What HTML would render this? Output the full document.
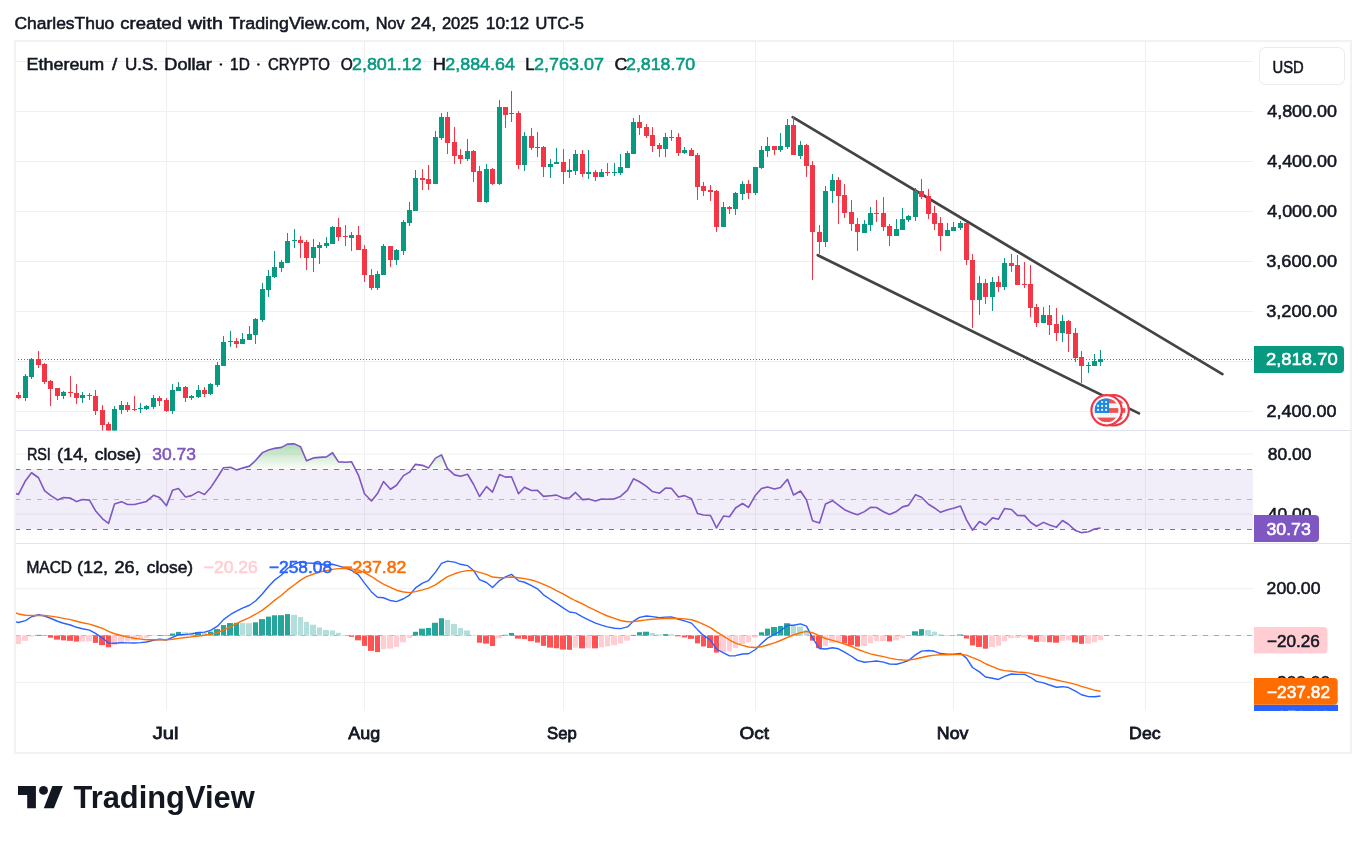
<!DOCTYPE html>
<html><head><meta charset="utf-8"><title>ETH/USD TradingView</title>
<style>html,body{margin:0;padding:0;background:#fff;}body{width:1367px;height:843px;overflow:hidden;position:relative;font-family:"Liberation Sans", sans-serif;}</style>
</head><body>
<svg width="1367" height="843" viewBox="0 0 1367 843" style="position:absolute;left:0;top:0;will-change:transform">
<defs>
<clipPath id="cm"><rect x="16" y="42" width="1237" height="388.5"/></clipPath>
<clipPath id="cr"><rect x="16" y="431" width="1237" height="112"/></clipPath>
<clipPath id="cd"><rect x="16" y="544" width="1237" height="166.5"/></clipPath>
<clipPath id="cax"><rect x="1253" y="544" width="98" height="167"/></clipPath>
<linearGradient id="gob" x1="0" y1="0" x2="0" y2="1"><stop offset="0" stop-color="#4caf50" stop-opacity="0.45"/><stop offset="1" stop-color="#4caf50" stop-opacity="0.02"/></linearGradient>
</defs>
<rect x="0" y="0" width="1367" height="843" fill="#ffffff"/>
<rect x="15" y="41" width="1336" height="712" fill="none" stroke="#f2f2f2" stroke-width="2"/>
<rect x="16" y="61.00" width="1237" height="1" fill="#f0f0f0"/>
<rect x="16" y="111.00" width="1237" height="1" fill="#f0f0f0"/>
<rect x="16" y="161.00" width="1237" height="1" fill="#f0f0f0"/>
<rect x="16" y="211.00" width="1237" height="1" fill="#f0f0f0"/>
<rect x="16" y="261.00" width="1237" height="1" fill="#f0f0f0"/>
<rect x="16" y="311.00" width="1237" height="1" fill="#f0f0f0"/>
<rect x="16" y="361.00" width="1237" height="1" fill="#f0f0f0"/>
<rect x="16" y="411.00" width="1237" height="1" fill="#f0f0f0"/>
<rect x="16" y="453.55" width="1237" height="1" fill="#f0f0f0"/>
<rect x="16" y="513.75" width="1237" height="1" fill="#f0f0f0"/>
<rect x="16" y="588.16" width="1237" height="1" fill="#f0f0f0"/>
<rect x="16" y="681.84" width="1237" height="1" fill="#f0f0f0"/>
<rect x="166" y="42" width="1" height="668.5" fill="#f0f0f0"/>
<rect x="364" y="42" width="1" height="668.5" fill="#f0f0f0"/>
<rect x="563" y="42" width="1" height="668.5" fill="#f0f0f0"/>
<rect x="755" y="42" width="1" height="668.5" fill="#f0f0f0"/>
<rect x="953" y="42" width="1" height="668.5" fill="#f0f0f0"/>
<rect x="1145" y="42" width="1" height="668.5" fill="#f0f0f0"/>
<rect x="16" y="430" width="1335" height="1" fill="#e0e3eb"/>
<rect x="16" y="543" width="1335" height="1" fill="#e0e3eb"/>
<g clip-path="url(#cm)">
<line x1="16" y1="359.5" x2="1253" y2="359.5" stroke="#089981" stroke-width="1" stroke-dasharray="1 2" stroke-dashoffset="1"/>
<line x1="792.7" y1="117.1" x2="1222.4" y2="374.1" stroke="#444444" stroke-width="2.7" stroke-linecap="round"/>
<line x1="817.8" y1="255.2" x2="1139" y2="413.4" stroke="#444444" stroke-width="2.7" stroke-linecap="round"/>
<rect x="18" y="392" width="1" height="7" fill="#f23645"/>
<rect x="16" y="395" width="5" height="3" fill="#f23645"/>
<rect x="25" y="374" width="1" height="27" fill="#089981"/>
<rect x="23" y="376" width="5" height="22" fill="#089981"/>
<rect x="31" y="358" width="1" height="21" fill="#089981"/>
<rect x="29" y="359" width="5" height="18" fill="#089981"/>
<rect x="38" y="351" width="1" height="17" fill="#f23645"/>
<rect x="36" y="359" width="5" height="6" fill="#f23645"/>
<rect x="44" y="363" width="1" height="21" fill="#f23645"/>
<rect x="42" y="364" width="5" height="18" fill="#f23645"/>
<rect x="50" y="380" width="1" height="26" fill="#f23645"/>
<rect x="48" y="381" width="5" height="8" fill="#f23645"/>
<rect x="57" y="388" width="1" height="12" fill="#f23645"/>
<rect x="55" y="388" width="5" height="8" fill="#f23645"/>
<rect x="63" y="391" width="1" height="8" fill="#089981"/>
<rect x="61" y="392" width="5" height="4" fill="#089981"/>
<rect x="70" y="376" width="1" height="21" fill="#f23645"/>
<rect x="68" y="392" width="5" height="1" fill="#f23645"/>
<rect x="76" y="384" width="1" height="20" fill="#f23645"/>
<rect x="74" y="393" width="5" height="5" fill="#f23645"/>
<rect x="82" y="392" width="1" height="11" fill="#089981"/>
<rect x="80" y="395" width="5" height="3" fill="#089981"/>
<rect x="89" y="393" width="1" height="7" fill="#f23645"/>
<rect x="87" y="395" width="5" height="1" fill="#f23645"/>
<rect x="95" y="390" width="1" height="25" fill="#f23645"/>
<rect x="93" y="396" width="5" height="15" fill="#f23645"/>
<rect x="102" y="405" width="1" height="35" fill="#f23645"/>
<rect x="100" y="410" width="5" height="15" fill="#f23645"/>
<rect x="108" y="422" width="1" height="26" fill="#f23645"/>
<rect x="106" y="424" width="5" height="10" fill="#f23645"/>
<rect x="114" y="406" width="1" height="31" fill="#089981"/>
<rect x="112" y="409" width="5" height="25" fill="#089981"/>
<rect x="121" y="401" width="1" height="13" fill="#089981"/>
<rect x="119" y="405" width="5" height="5" fill="#089981"/>
<rect x="127" y="402" width="1" height="10" fill="#f23645"/>
<rect x="125" y="405" width="5" height="5" fill="#f23645"/>
<rect x="134" y="396" width="1" height="15" fill="#f23645"/>
<rect x="132" y="409" width="5" height="1" fill="#f23645"/>
<rect x="140" y="403" width="1" height="10" fill="#089981"/>
<rect x="138" y="408" width="5" height="1" fill="#089981"/>
<rect x="146" y="405" width="1" height="5" fill="#089981"/>
<rect x="144" y="406" width="5" height="3" fill="#089981"/>
<rect x="153" y="395" width="1" height="14" fill="#089981"/>
<rect x="151" y="398" width="5" height="9" fill="#089981"/>
<rect x="159" y="396" width="1" height="10" fill="#f23645"/>
<rect x="157" y="398" width="5" height="3" fill="#f23645"/>
<rect x="166" y="398" width="1" height="14" fill="#f23645"/>
<rect x="164" y="400" width="5" height="11" fill="#f23645"/>
<rect x="172" y="384" width="1" height="30" fill="#089981"/>
<rect x="170" y="390" width="5" height="21" fill="#089981"/>
<rect x="178" y="382" width="1" height="9" fill="#089981"/>
<rect x="176" y="387" width="5" height="4" fill="#089981"/>
<rect x="185" y="386" width="1" height="16" fill="#f23645"/>
<rect x="183" y="387" width="5" height="11" fill="#f23645"/>
<rect x="191" y="395" width="1" height="5" fill="#089981"/>
<rect x="189" y="396" width="5" height="2" fill="#089981"/>
<rect x="198" y="385" width="1" height="13" fill="#089981"/>
<rect x="196" y="390" width="5" height="7" fill="#089981"/>
<rect x="204" y="387" width="1" height="10" fill="#f23645"/>
<rect x="202" y="390" width="5" height="4" fill="#f23645"/>
<rect x="210" y="383" width="1" height="12" fill="#089981"/>
<rect x="208" y="384" width="5" height="10" fill="#089981"/>
<rect x="217" y="362" width="1" height="25" fill="#089981"/>
<rect x="215" y="365" width="5" height="20" fill="#089981"/>
<rect x="223" y="336" width="1" height="30" fill="#089981"/>
<rect x="221" y="342" width="5" height="24" fill="#089981"/>
<rect x="230" y="331" width="1" height="16" fill="#089981"/>
<rect x="228" y="341" width="5" height="1" fill="#089981"/>
<rect x="236" y="338" width="1" height="10" fill="#f23645"/>
<rect x="234" y="341" width="5" height="3" fill="#f23645"/>
<rect x="242" y="333" width="1" height="11" fill="#089981"/>
<rect x="240" y="339" width="5" height="5" fill="#089981"/>
<rect x="249" y="326" width="1" height="14" fill="#089981"/>
<rect x="247" y="334" width="5" height="6" fill="#089981"/>
<rect x="255" y="318" width="1" height="26" fill="#089981"/>
<rect x="253" y="319" width="5" height="16" fill="#089981"/>
<rect x="262" y="283" width="1" height="39" fill="#089981"/>
<rect x="260" y="289" width="5" height="31" fill="#089981"/>
<rect x="268" y="270" width="1" height="27" fill="#089981"/>
<rect x="266" y="276" width="5" height="14" fill="#089981"/>
<rect x="274" y="251" width="1" height="27" fill="#089981"/>
<rect x="272" y="267" width="5" height="10" fill="#089981"/>
<rect x="281" y="260" width="1" height="12" fill="#089981"/>
<rect x="279" y="262" width="5" height="6" fill="#089981"/>
<rect x="287" y="233" width="1" height="30" fill="#089981"/>
<rect x="285" y="241" width="5" height="22" fill="#089981"/>
<rect x="294" y="229" width="1" height="19" fill="#089981"/>
<rect x="292" y="240" width="5" height="1" fill="#089981"/>
<rect x="300" y="236" width="1" height="22" fill="#f23645"/>
<rect x="298" y="240" width="5" height="3" fill="#f23645"/>
<rect x="306" y="240" width="1" height="30" fill="#f23645"/>
<rect x="304" y="242" width="5" height="16" fill="#f23645"/>
<rect x="313" y="239" width="1" height="33" fill="#089981"/>
<rect x="311" y="247" width="5" height="11" fill="#089981"/>
<rect x="319" y="242" width="1" height="22" fill="#089981"/>
<rect x="317" y="245" width="5" height="3" fill="#089981"/>
<rect x="326" y="237" width="1" height="11" fill="#089981"/>
<rect x="324" y="243" width="5" height="3" fill="#089981"/>
<rect x="332" y="226" width="1" height="18" fill="#089981"/>
<rect x="330" y="227" width="5" height="17" fill="#089981"/>
<rect x="338" y="218" width="1" height="23" fill="#f23645"/>
<rect x="336" y="227" width="5" height="10" fill="#f23645"/>
<rect x="345" y="225" width="1" height="21" fill="#f23645"/>
<rect x="343" y="236" width="5" height="1" fill="#f23645"/>
<rect x="351" y="232" width="1" height="19" fill="#089981"/>
<rect x="349" y="235" width="5" height="3" fill="#089981"/>
<rect x="358" y="226" width="1" height="24" fill="#f23645"/>
<rect x="356" y="235" width="5" height="15" fill="#f23645"/>
<rect x="364" y="245" width="1" height="37" fill="#f23645"/>
<rect x="362" y="249" width="5" height="26" fill="#f23645"/>
<rect x="371" y="269" width="1" height="21" fill="#f23645"/>
<rect x="369" y="275" width="5" height="13" fill="#f23645"/>
<rect x="377" y="271" width="1" height="19" fill="#089981"/>
<rect x="375" y="274" width="5" height="14" fill="#089981"/>
<rect x="383" y="244" width="1" height="31" fill="#089981"/>
<rect x="381" y="246" width="5" height="29" fill="#089981"/>
<rect x="390" y="246" width="1" height="21" fill="#f23645"/>
<rect x="388" y="246" width="5" height="14" fill="#f23645"/>
<rect x="396" y="249" width="1" height="16" fill="#089981"/>
<rect x="394" y="250" width="5" height="10" fill="#089981"/>
<rect x="403" y="220" width="1" height="35" fill="#089981"/>
<rect x="401" y="222" width="5" height="29" fill="#089981"/>
<rect x="409" y="202" width="1" height="24" fill="#089981"/>
<rect x="407" y="210" width="5" height="13" fill="#089981"/>
<rect x="415" y="170" width="1" height="41" fill="#089981"/>
<rect x="413" y="178" width="5" height="33" fill="#089981"/>
<rect x="422" y="169" width="1" height="21" fill="#f23645"/>
<rect x="420" y="178" width="5" height="2" fill="#f23645"/>
<rect x="428" y="165" width="1" height="25" fill="#f23645"/>
<rect x="426" y="179" width="5" height="5" fill="#f23645"/>
<rect x="435" y="131" width="1" height="53" fill="#089981"/>
<rect x="433" y="137" width="5" height="47" fill="#089981"/>
<rect x="441" y="113" width="1" height="27" fill="#089981"/>
<rect x="439" y="117" width="5" height="21" fill="#089981"/>
<rect x="447" y="112" width="1" height="42" fill="#f23645"/>
<rect x="445" y="117" width="5" height="26" fill="#f23645"/>
<rect x="454" y="127" width="1" height="37" fill="#f23645"/>
<rect x="452" y="142" width="5" height="14" fill="#f23645"/>
<rect x="460" y="149" width="1" height="15" fill="#f23645"/>
<rect x="458" y="155" width="5" height="4" fill="#f23645"/>
<rect x="467" y="139" width="1" height="22" fill="#089981"/>
<rect x="465" y="151" width="5" height="8" fill="#089981"/>
<rect x="473" y="150" width="1" height="32" fill="#f23645"/>
<rect x="471" y="151" width="5" height="21" fill="#f23645"/>
<rect x="479" y="166" width="1" height="36" fill="#f23645"/>
<rect x="477" y="171" width="5" height="31" fill="#f23645"/>
<rect x="486" y="164" width="1" height="39" fill="#089981"/>
<rect x="484" y="169" width="5" height="33" fill="#089981"/>
<rect x="492" y="168" width="1" height="17" fill="#f23645"/>
<rect x="490" y="169" width="5" height="15" fill="#f23645"/>
<rect x="499" y="100" width="1" height="85" fill="#089981"/>
<rect x="497" y="107" width="5" height="77" fill="#089981"/>
<rect x="505" y="107" width="1" height="21" fill="#f23645"/>
<rect x="503" y="107" width="5" height="8" fill="#f23645"/>
<rect x="511" y="91" width="1" height="31" fill="#089981"/>
<rect x="509" y="113" width="5" height="1" fill="#089981"/>
<rect x="518" y="111" width="1" height="58" fill="#f23645"/>
<rect x="516" y="113" width="5" height="52" fill="#f23645"/>
<rect x="524" y="132" width="1" height="39" fill="#089981"/>
<rect x="522" y="136" width="5" height="29" fill="#089981"/>
<rect x="531" y="128" width="1" height="22" fill="#f23645"/>
<rect x="529" y="136" width="5" height="12" fill="#f23645"/>
<rect x="537" y="132" width="1" height="25" fill="#089981"/>
<rect x="535" y="147" width="5" height="1" fill="#089981"/>
<rect x="543" y="146" width="1" height="31" fill="#f23645"/>
<rect x="541" y="147" width="5" height="20" fill="#f23645"/>
<rect x="550" y="159" width="1" height="19" fill="#089981"/>
<rect x="548" y="164" width="5" height="3" fill="#089981"/>
<rect x="556" y="148" width="1" height="16" fill="#089981"/>
<rect x="554" y="162" width="5" height="2" fill="#089981"/>
<rect x="563" y="149" width="1" height="35" fill="#f23645"/>
<rect x="561" y="162" width="5" height="10" fill="#f23645"/>
<rect x="569" y="159" width="1" height="19" fill="#089981"/>
<rect x="567" y="170" width="5" height="2" fill="#089981"/>
<rect x="575" y="150" width="1" height="25" fill="#089981"/>
<rect x="573" y="154" width="5" height="17" fill="#089981"/>
<rect x="582" y="150" width="1" height="27" fill="#f23645"/>
<rect x="580" y="154" width="5" height="20" fill="#f23645"/>
<rect x="588" y="150" width="1" height="29" fill="#089981"/>
<rect x="586" y="172" width="5" height="2" fill="#089981"/>
<rect x="595" y="170" width="1" height="11" fill="#f23645"/>
<rect x="593" y="172" width="5" height="5" fill="#f23645"/>
<rect x="601" y="169" width="1" height="8" fill="#089981"/>
<rect x="599" y="172" width="5" height="5" fill="#089981"/>
<rect x="607" y="163" width="1" height="13" fill="#f23645"/>
<rect x="605" y="172" width="5" height="1" fill="#f23645"/>
<rect x="614" y="163" width="1" height="13" fill="#089981"/>
<rect x="612" y="172" width="5" height="1" fill="#089981"/>
<rect x="620" y="154" width="1" height="21" fill="#089981"/>
<rect x="618" y="167" width="5" height="6" fill="#089981"/>
<rect x="627" y="151" width="1" height="17" fill="#089981"/>
<rect x="625" y="153" width="5" height="15" fill="#089981"/>
<rect x="633" y="118" width="1" height="36" fill="#089981"/>
<rect x="631" y="122" width="5" height="32" fill="#089981"/>
<rect x="639" y="115" width="1" height="20" fill="#f23645"/>
<rect x="637" y="122" width="5" height="6" fill="#f23645"/>
<rect x="646" y="124" width="1" height="14" fill="#f23645"/>
<rect x="644" y="127" width="5" height="9" fill="#f23645"/>
<rect x="652" y="127" width="1" height="25" fill="#f23645"/>
<rect x="650" y="135" width="5" height="11" fill="#f23645"/>
<rect x="659" y="143" width="1" height="14" fill="#f23645"/>
<rect x="657" y="145" width="5" height="4" fill="#f23645"/>
<rect x="665" y="133" width="1" height="24" fill="#089981"/>
<rect x="663" y="137" width="5" height="12" fill="#089981"/>
<rect x="671" y="130" width="1" height="11" fill="#f23645"/>
<rect x="669" y="137" width="5" height="1" fill="#f23645"/>
<rect x="678" y="133" width="1" height="23" fill="#f23645"/>
<rect x="676" y="137" width="5" height="16" fill="#f23645"/>
<rect x="684" y="147" width="1" height="7" fill="#089981"/>
<rect x="682" y="150" width="5" height="3" fill="#089981"/>
<rect x="691" y="148" width="1" height="8" fill="#f23645"/>
<rect x="689" y="150" width="5" height="6" fill="#f23645"/>
<rect x="697" y="153" width="1" height="47" fill="#f23645"/>
<rect x="695" y="155" width="5" height="32" fill="#f23645"/>
<rect x="703" y="182" width="1" height="14" fill="#f23645"/>
<rect x="701" y="186" width="5" height="5" fill="#f23645"/>
<rect x="710" y="185" width="1" height="16" fill="#f23645"/>
<rect x="708" y="190" width="5" height="2" fill="#f23645"/>
<rect x="716" y="190" width="1" height="42" fill="#f23645"/>
<rect x="714" y="191" width="5" height="36" fill="#f23645"/>
<rect x="723" y="202" width="1" height="25" fill="#089981"/>
<rect x="721" y="207" width="5" height="20" fill="#089981"/>
<rect x="729" y="206" width="1" height="8" fill="#f23645"/>
<rect x="727" y="207" width="5" height="2" fill="#f23645"/>
<rect x="735" y="192" width="1" height="23" fill="#089981"/>
<rect x="733" y="193" width="5" height="16" fill="#089981"/>
<rect x="742" y="181" width="1" height="19" fill="#089981"/>
<rect x="740" y="184" width="5" height="10" fill="#089981"/>
<rect x="748" y="180" width="1" height="19" fill="#f23645"/>
<rect x="746" y="184" width="5" height="9" fill="#f23645"/>
<rect x="755" y="167" width="1" height="28" fill="#089981"/>
<rect x="753" y="167" width="5" height="26" fill="#089981"/>
<rect x="761" y="146" width="1" height="23" fill="#089981"/>
<rect x="759" y="150" width="5" height="18" fill="#089981"/>
<rect x="767" y="137" width="1" height="20" fill="#089981"/>
<rect x="765" y="146" width="5" height="5" fill="#089981"/>
<rect x="774" y="146" width="1" height="9" fill="#f23645"/>
<rect x="772" y="146" width="5" height="4" fill="#f23645"/>
<rect x="780" y="133" width="1" height="19" fill="#089981"/>
<rect x="778" y="146" width="5" height="4" fill="#089981"/>
<rect x="787" y="119" width="1" height="30" fill="#089981"/>
<rect x="785" y="125" width="5" height="22" fill="#089981"/>
<rect x="793" y="116" width="1" height="39" fill="#f23645"/>
<rect x="791" y="125" width="5" height="30" fill="#f23645"/>
<rect x="800" y="141" width="1" height="18" fill="#089981"/>
<rect x="798" y="145" width="5" height="11" fill="#089981"/>
<rect x="806" y="144" width="1" height="33" fill="#f23645"/>
<rect x="804" y="145" width="5" height="21" fill="#f23645"/>
<rect x="812" y="161" width="1" height="119" fill="#f23645"/>
<rect x="810" y="165" width="5" height="67" fill="#f23645"/>
<rect x="819" y="225" width="1" height="29" fill="#f23645"/>
<rect x="817" y="232" width="5" height="10" fill="#f23645"/>
<rect x="825" y="186" width="1" height="61" fill="#089981"/>
<rect x="823" y="191" width="5" height="51" fill="#089981"/>
<rect x="832" y="174" width="1" height="29" fill="#089981"/>
<rect x="830" y="180" width="5" height="11" fill="#089981"/>
<rect x="838" y="177" width="1" height="47" fill="#f23645"/>
<rect x="836" y="180" width="5" height="16" fill="#f23645"/>
<rect x="844" y="184" width="1" height="34" fill="#f23645"/>
<rect x="842" y="195" width="5" height="18" fill="#f23645"/>
<rect x="851" y="200" width="1" height="31" fill="#f23645"/>
<rect x="849" y="212" width="5" height="12" fill="#f23645"/>
<rect x="857" y="218" width="1" height="33" fill="#f23645"/>
<rect x="855" y="224" width="5" height="8" fill="#f23645"/>
<rect x="864" y="220" width="1" height="13" fill="#089981"/>
<rect x="862" y="224" width="5" height="9" fill="#089981"/>
<rect x="870" y="207" width="1" height="24" fill="#089981"/>
<rect x="868" y="213" width="5" height="12" fill="#089981"/>
<rect x="876" y="200" width="1" height="22" fill="#f23645"/>
<rect x="874" y="213" width="5" height="1" fill="#f23645"/>
<rect x="883" y="197" width="1" height="34" fill="#f23645"/>
<rect x="881" y="213" width="5" height="14" fill="#f23645"/>
<rect x="889" y="224" width="1" height="22" fill="#f23645"/>
<rect x="887" y="226" width="5" height="10" fill="#f23645"/>
<rect x="896" y="219" width="1" height="17" fill="#089981"/>
<rect x="894" y="229" width="5" height="7" fill="#089981"/>
<rect x="902" y="208" width="1" height="22" fill="#089981"/>
<rect x="900" y="219" width="5" height="11" fill="#089981"/>
<rect x="908" y="215" width="1" height="7" fill="#089981"/>
<rect x="906" y="216" width="5" height="4" fill="#089981"/>
<rect x="915" y="188" width="1" height="33" fill="#089981"/>
<rect x="913" y="191" width="5" height="26" fill="#089981"/>
<rect x="921" y="179" width="1" height="20" fill="#f23645"/>
<rect x="919" y="191" width="5" height="6" fill="#f23645"/>
<rect x="928" y="189" width="1" height="30" fill="#f23645"/>
<rect x="926" y="196" width="5" height="18" fill="#f23645"/>
<rect x="934" y="206" width="1" height="24" fill="#f23645"/>
<rect x="932" y="213" width="5" height="11" fill="#f23645"/>
<rect x="940" y="217" width="1" height="34" fill="#f23645"/>
<rect x="938" y="223" width="5" height="13" fill="#f23645"/>
<rect x="947" y="223" width="1" height="13" fill="#089981"/>
<rect x="945" y="230" width="5" height="6" fill="#089981"/>
<rect x="953" y="222" width="1" height="9" fill="#089981"/>
<rect x="951" y="227" width="5" height="4" fill="#089981"/>
<rect x="960" y="221" width="1" height="9" fill="#089981"/>
<rect x="958" y="223" width="5" height="5" fill="#089981"/>
<rect x="966" y="223" width="1" height="42" fill="#f23645"/>
<rect x="964" y="223" width="5" height="37" fill="#f23645"/>
<rect x="972" y="254" width="1" height="74" fill="#f23645"/>
<rect x="970" y="260" width="5" height="40" fill="#f23645"/>
<rect x="979" y="276" width="1" height="39" fill="#089981"/>
<rect x="977" y="283" width="5" height="17" fill="#089981"/>
<rect x="985" y="279" width="1" height="25" fill="#f23645"/>
<rect x="983" y="283" width="5" height="14" fill="#f23645"/>
<rect x="992" y="277" width="1" height="34" fill="#089981"/>
<rect x="990" y="282" width="5" height="15" fill="#089981"/>
<rect x="998" y="276" width="1" height="16" fill="#f23645"/>
<rect x="996" y="282" width="5" height="5" fill="#f23645"/>
<rect x="1004" y="258" width="1" height="32" fill="#089981"/>
<rect x="1002" y="263" width="5" height="24" fill="#089981"/>
<rect x="1011" y="254" width="1" height="18" fill="#f23645"/>
<rect x="1009" y="263" width="5" height="3" fill="#f23645"/>
<rect x="1017" y="255" width="1" height="30" fill="#f23645"/>
<rect x="1015" y="265" width="5" height="20" fill="#f23645"/>
<rect x="1024" y="262" width="1" height="26" fill="#f23645"/>
<rect x="1022" y="284" width="5" height="1" fill="#f23645"/>
<rect x="1030" y="265" width="1" height="52" fill="#f23645"/>
<rect x="1028" y="284" width="5" height="24" fill="#f23645"/>
<rect x="1036" y="304" width="1" height="23" fill="#f23645"/>
<rect x="1034" y="307" width="5" height="16" fill="#f23645"/>
<rect x="1043" y="307" width="1" height="16" fill="#089981"/>
<rect x="1041" y="315" width="5" height="8" fill="#089981"/>
<rect x="1049" y="305" width="1" height="30" fill="#f23645"/>
<rect x="1047" y="315" width="5" height="10" fill="#f23645"/>
<rect x="1056" y="308" width="1" height="33" fill="#f23645"/>
<rect x="1054" y="324" width="5" height="9" fill="#f23645"/>
<rect x="1062" y="315" width="1" height="27" fill="#089981"/>
<rect x="1060" y="321" width="5" height="12" fill="#089981"/>
<rect x="1068" y="320" width="1" height="32" fill="#f23645"/>
<rect x="1066" y="321" width="5" height="13" fill="#f23645"/>
<rect x="1075" y="328" width="1" height="34" fill="#f23645"/>
<rect x="1073" y="333" width="5" height="25" fill="#f23645"/>
<rect x="1081" y="351" width="1" height="32" fill="#f23645"/>
<rect x="1079" y="357" width="5" height="9" fill="#f23645"/>
<rect x="1088" y="362" width="1" height="11" fill="#089981"/>
<rect x="1086" y="365" width="5" height="1" fill="#089981"/>
<rect x="1094" y="354" width="1" height="12" fill="#089981"/>
<rect x="1092" y="361" width="5" height="5" fill="#089981"/>
<rect x="1100" y="350" width="1" height="16" fill="#089981"/>
<rect x="1098" y="359" width="5" height="3" fill="#089981"/>
<circle cx="1113.6" cy="410.3" r="15.2" fill="#ffffff" stroke="#f23645" stroke-width="2.2"/>
<clipPath id="fc2"><circle cx="1113.6" cy="410.3" r="12"/></clipPath>
<g clip-path="url(#fc2)">
<rect x="1101.6" y="398.3" width="24" height="24" fill="#f5f6f8"/>
<rect x="1101.6" y="398.60" width="24" height="4.75" fill="#ef5350"/>
<rect x="1101.6" y="408.10" width="24" height="4.75" fill="#ef5350"/>
<rect x="1101.6" y="417.60" width="24" height="4.75" fill="#ef5350"/>
<rect x="1101.6" y="398.3" width="14.4" height="14.7" fill="#1e88e5"/>
<circle cx="1109.10" cy="402.00" r="1.05" fill="#ffffff"/>
<circle cx="1113.10" cy="402.00" r="1.05" fill="#ffffff"/>
<circle cx="1105.10" cy="405.90" r="1.05" fill="#ffffff"/>
<circle cx="1109.10" cy="405.90" r="1.05" fill="#ffffff"/>
<circle cx="1113.10" cy="405.90" r="1.05" fill="#ffffff"/>
<circle cx="1105.10" cy="409.90" r="1.05" fill="#ffffff"/>
<circle cx="1109.10" cy="409.90" r="1.05" fill="#ffffff"/>
<circle cx="1113.10" cy="409.90" r="1.05" fill="#ffffff"/>
</g>
<circle cx="1106.6" cy="410.3" r="15.2" fill="#ffffff" stroke="#f23645" stroke-width="2.2"/>
<clipPath id="fc"><circle cx="1106.6" cy="410.3" r="12"/></clipPath>
<g clip-path="url(#fc)">
<rect x="1094.6" y="398.3" width="24" height="24" fill="#f5f6f8"/>
<rect x="1094.6" y="398.60" width="24" height="4.75" fill="#ef5350"/>
<rect x="1094.6" y="408.10" width="24" height="4.75" fill="#ef5350"/>
<rect x="1094.6" y="417.60" width="24" height="4.75" fill="#ef5350"/>
<rect x="1094.6" y="398.3" width="14.4" height="14.7" fill="#1e88e5"/>
<circle cx="1102.10" cy="402.00" r="1.05" fill="#ffffff"/>
<circle cx="1106.10" cy="402.00" r="1.05" fill="#ffffff"/>
<circle cx="1098.10" cy="405.90" r="1.05" fill="#ffffff"/>
<circle cx="1102.10" cy="405.90" r="1.05" fill="#ffffff"/>
<circle cx="1106.10" cy="405.90" r="1.05" fill="#ffffff"/>
<circle cx="1098.10" cy="409.90" r="1.05" fill="#ffffff"/>
<circle cx="1102.10" cy="409.90" r="1.05" fill="#ffffff"/>
<circle cx="1106.10" cy="409.90" r="1.05" fill="#ffffff"/>
</g>
</g>
<g clip-path="url(#cr)">
<rect x="16" y="469.10" width="1237" height="60.20" fill="#7e57c2" fill-opacity="0.1"/>
<rect x="16" y="513.75" width="1237" height="1" fill="#e6e2ef"/>
<line x1="15" y1="469.5" x2="1253" y2="469.5" stroke="#787b86" stroke-width="1" stroke-dasharray="5 6"/>
<line x1="15" y1="499.5" x2="1253" y2="499.5" stroke="#787b86" stroke-opacity="0.5" stroke-width="1" stroke-dasharray="5 6"/>
<line x1="15" y1="529.5" x2="1253" y2="529.5" stroke="#787b86" stroke-width="1" stroke-dasharray="5 6"/>
<polygon points="12.50,469.10 12.50,469.10 18.50,469.10 25.50,469.10 31.50,469.10 38.50,469.10 44.50,469.10 50.50,469.10 57.50,469.10 63.50,469.10 70.50,469.10 76.50,469.10 82.50,469.10 89.50,469.10 95.50,469.10 102.50,469.10 108.50,469.10 114.50,469.10 121.50,469.10 127.50,469.10 134.50,469.10 140.50,469.10 146.50,469.10 153.50,469.10 159.50,469.10 166.50,469.10 172.50,469.10 178.50,469.10 185.50,469.10 191.50,469.10 198.50,469.10 204.50,469.10 210.50,469.10 217.50,469.10 223.50,467.73 230.50,467.30 236.50,469.10 242.50,468.11 249.50,466.12 255.50,460.50 262.50,452.63 268.50,450.02 274.50,448.34 281.50,447.38 287.50,444.08 294.50,443.87 300.50,446.68 306.50,460.81 313.50,457.92 319.50,457.42 326.50,456.87 332.50,452.72 338.50,461.91 345.50,462.28 351.50,461.68 358.50,469.10 364.50,469.10 371.50,469.10 377.50,469.10 383.50,469.10 390.50,469.10 396.50,469.10 403.50,469.10 409.50,469.10 415.50,464.34 422.50,465.35 428.50,467.90 435.50,458.09 441.50,454.91 447.50,468.70 454.50,469.10 460.50,469.10 467.50,469.10 473.50,469.10 479.50,469.10 486.50,469.10 492.50,469.10 499.50,469.10 505.50,469.10 511.50,469.10 518.50,469.10 524.50,469.10 531.50,469.10 537.50,469.10 543.50,469.10 550.50,469.10 556.50,469.10 563.50,469.10 569.50,469.10 575.50,469.10 582.50,469.10 588.50,469.10 595.50,469.10 601.50,469.10 607.50,469.10 614.50,469.10 620.50,469.10 627.50,469.10 633.50,469.10 639.50,469.10 646.50,469.10 652.50,469.10 659.50,469.10 665.50,469.10 671.50,469.10 678.50,469.10 684.50,469.10 691.50,469.10 697.50,469.10 703.50,469.10 710.50,469.10 716.50,469.10 723.50,469.10 729.50,469.10 735.50,469.10 742.50,469.10 748.50,469.10 755.50,469.10 761.50,469.10 767.50,469.10 774.50,469.10 780.50,469.10 787.50,469.10 793.50,469.10 800.50,469.10 806.50,469.10 812.50,469.10 819.50,469.10 825.50,469.10 832.50,469.10 838.50,469.10 844.50,469.10 851.50,469.10 857.50,469.10 864.50,469.10 870.50,469.10 876.50,469.10 883.50,469.10 889.50,469.10 896.50,469.10 902.50,469.10 908.50,469.10 915.50,469.10 921.50,469.10 928.50,469.10 934.50,469.10 940.50,469.10 947.50,469.10 953.50,469.10 960.50,469.10 966.50,469.10 972.50,469.10 979.50,469.10 985.50,469.10 992.50,469.10 998.50,469.10 1004.50,469.10 1011.50,469.10 1017.50,469.10 1024.50,469.10 1030.50,469.10 1036.50,469.10 1043.50,469.10 1049.50,469.10 1056.50,469.10 1062.50,469.10 1068.50,469.10 1075.50,469.10 1081.50,469.10 1088.50,469.10 1094.50,469.10 1100.50,469.10 1100.50,469.10" fill="url(#gob)"/>
<polyline points="12.50,492.43 18.50,494.47 25.50,480.69 31.50,472.76 38.50,477.76 44.50,490.67 50.50,495.38 57.50,499.95 63.50,497.56 70.50,498.12 76.50,501.61 82.50,499.48 89.50,500.11 95.50,510.72 102.50,518.76 108.50,523.44 114.50,504.12 121.50,501.65 127.50,504.52 134.50,504.52 140.50,502.99 146.50,501.47 153.50,495.35 159.50,497.58 166.50,505.65 172.50,490.36 178.50,488.46 185.50,496.94 191.50,495.62 198.50,491.61 204.50,494.52 210.50,487.83 217.50,477.20 223.50,467.73 230.50,467.30 236.50,470.09 242.50,468.11 249.50,466.12 255.50,460.50 262.50,452.63 268.50,450.02 274.50,448.34 281.50,447.38 287.50,444.08 294.50,443.87 300.50,446.68 306.50,460.81 313.50,457.92 319.50,457.42 326.50,456.87 332.50,452.72 338.50,461.91 345.50,462.28 351.50,461.68 358.50,475.33 364.50,493.78 371.50,500.97 377.50,493.59 383.50,481.50 390.50,489.21 396.50,485.23 403.50,475.64 409.50,472.15 415.50,464.34 422.50,465.35 428.50,467.90 435.50,458.09 441.50,454.91 447.50,468.70 454.50,474.89 460.50,476.31 467.50,474.27 473.50,484.26 479.50,496.49 486.50,486.59 492.50,492.04 499.50,474.51 505.50,477.11 511.50,476.75 518.50,493.69 524.50,487.17 531.50,490.57 537.50,490.42 543.50,496.41 550.50,495.71 556.50,495.14 563.50,498.33 569.50,497.82 575.50,492.45 582.50,499.64 588.50,499.09 595.50,501.06 601.50,498.95 607.50,499.25 614.50,498.84 620.50,496.42 627.50,490.16 633.50,478.84 639.50,481.78 646.50,486.34 652.50,491.58 659.50,493.16 665.50,488.04 671.50,488.39 678.50,496.94 684.50,495.62 691.50,498.85 697.50,513.45 703.50,515.01 710.50,515.51 716.50,527.81 723.50,516.04 729.50,516.71 735.50,507.99 742.50,503.53 748.50,507.36 755.50,495.20 761.50,488.51 767.50,487.09 774.50,488.96 780.50,487.49 787.50,479.31 793.50,494.95 800.50,491.05 806.50,500.06 812.50,520.65 819.50,522.95 825.50,503.99 832.50,500.67 838.50,505.09 844.50,509.74 851.50,512.80 857.50,514.84 864.50,511.61 870.50,507.29 876.50,507.48 883.50,511.70 889.50,514.40 896.50,511.42 902.50,506.90 908.50,505.37 915.50,494.72 921.50,497.27 928.50,504.22 934.50,507.96 940.50,512.32 947.50,509.70 953.50,508.19 960.50,505.95 966.50,519.85 972.50,530.21 979.50,521.53 985.50,524.94 992.50,517.90 998.50,519.23 1004.50,508.52 1011.50,509.45 1017.50,515.49 1024.50,515.61 1030.50,522.29 1036.50,526.26 1043.50,522.36 1049.50,525.03 1056.50,527.15 1062.50,520.52 1068.50,524.23 1075.50,530.54 1081.50,532.66 1088.50,531.79 1094.50,529.06 1100.50,527.92" fill="none" stroke="#7e57c2" stroke-width="1.6" stroke-linejoin="round"/>
</g>
<g clip-path="url(#cd)">
<rect x="16" y="635" width="1237" height="1" fill="#f0f0f0"/>
<line x1="15" y1="635.5" x2="1253" y2="635.5" stroke="#787b86" stroke-opacity="0.6" stroke-width="1" stroke-dasharray="5 6"/>
<rect x="16" y="635.50" width="5" height="8.56" fill="#ffcdd2"/>
<rect x="22" y="635.50" width="6" height="5.30" fill="#ffcdd2"/>
<rect x="29" y="635.50" width="5" height="1.15" fill="#ffcdd2"/>
<rect x="35" y="634.86" width="6" height="0.64" fill="#26a69a"/>
<rect x="42" y="635.50" width="5" height="0.50" fill="#ff5252"/>
<rect x="48" y="635.50" width="5" height="2.17" fill="#ff5252"/>
<rect x="54" y="635.50" width="6" height="4.14" fill="#ff5252"/>
<rect x="61" y="635.50" width="5" height="4.89" fill="#ff5252"/>
<rect x="67" y="635.50" width="6" height="5.35" fill="#ff5252"/>
<rect x="74" y="635.50" width="5" height="6.09" fill="#ff5252"/>
<rect x="80" y="635.50" width="5" height="6.03" fill="#ffcdd2"/>
<rect x="86" y="635.50" width="6" height="5.89" fill="#ffcdd2"/>
<rect x="93" y="635.50" width="5" height="7.37" fill="#ff5252"/>
<rect x="99" y="635.50" width="6" height="9.65" fill="#ff5252"/>
<rect x="106" y="635.50" width="5" height="11.77" fill="#ff5252"/>
<rect x="112" y="635.50" width="5" height="9.53" fill="#ffcdd2"/>
<rect x="118" y="635.50" width="6" height="7.18" fill="#ffcdd2"/>
<rect x="125" y="635.50" width="5" height="5.90" fill="#ffcdd2"/>
<rect x="131" y="635.50" width="6" height="4.77" fill="#ffcdd2"/>
<rect x="138" y="635.50" width="5" height="3.55" fill="#ffcdd2"/>
<rect x="144" y="635.50" width="5" height="2.34" fill="#ffcdd2"/>
<rect x="150" y="635.50" width="6" height="0.50" fill="#ffcdd2"/>
<rect x="157" y="635.06" width="5" height="0.50" fill="#26a69a"/>
<rect x="163" y="635.50" width="6" height="0.50" fill="#ff5252"/>
<rect x="170" y="633.55" width="5" height="1.95" fill="#26a69a"/>
<rect x="176" y="631.88" width="5" height="3.62" fill="#26a69a"/>
<rect x="182" y="632.32" width="6" height="3.18" fill="#b2dfdb"/>
<rect x="189" y="632.51" width="5" height="2.99" fill="#b2dfdb"/>
<rect x="195" y="632.09" width="6" height="3.41" fill="#26a69a"/>
<rect x="202" y="632.41" width="5" height="3.09" fill="#b2dfdb"/>
<rect x="208" y="631.62" width="5" height="3.88" fill="#26a69a"/>
<rect x="214" y="629.07" width="6" height="6.43" fill="#26a69a"/>
<rect x="221" y="625.09" width="5" height="10.41" fill="#26a69a"/>
<rect x="227" y="623.05" width="6" height="12.45" fill="#26a69a"/>
<rect x="234" y="622.86" width="5" height="12.64" fill="#26a69a"/>
<rect x="240" y="622.94" width="5" height="12.56" fill="#b2dfdb"/>
<rect x="246" y="623.20" width="6" height="12.30" fill="#b2dfdb"/>
<rect x="253" y="622.32" width="5" height="13.18" fill="#26a69a"/>
<rect x="259" y="619.10" width="6" height="16.40" fill="#26a69a"/>
<rect x="266" y="616.64" width="5" height="18.86" fill="#26a69a"/>
<rect x="272" y="615.28" width="5" height="20.22" fill="#26a69a"/>
<rect x="278" y="615.18" width="6" height="20.32" fill="#26a69a"/>
<rect x="285" y="614.09" width="5" height="21.41" fill="#26a69a"/>
<rect x="291" y="614.77" width="6" height="20.73" fill="#b2dfdb"/>
<rect x="298" y="617.08" width="5" height="18.42" fill="#b2dfdb"/>
<rect x="304" y="621.80" width="5" height="13.70" fill="#b2dfdb"/>
<rect x="310" y="624.73" width="6" height="10.77" fill="#b2dfdb"/>
<rect x="317" y="627.46" width="5" height="8.04" fill="#b2dfdb"/>
<rect x="323" y="629.94" width="6" height="5.56" fill="#b2dfdb"/>
<rect x="330" y="630.42" width="5" height="5.08" fill="#b2dfdb"/>
<rect x="336" y="632.77" width="5" height="2.73" fill="#b2dfdb"/>
<rect x="342" y="635.04" width="6" height="0.50" fill="#b2dfdb"/>
<rect x="349" y="635.50" width="5" height="1.38" fill="#ff5252"/>
<rect x="355" y="635.50" width="6" height="4.81" fill="#ff5252"/>
<rect x="362" y="635.50" width="5" height="10.37" fill="#ff5252"/>
<rect x="368" y="635.50" width="6" height="15.38" fill="#ff5252"/>
<rect x="375" y="635.50" width="5" height="16.60" fill="#ff5252"/>
<rect x="381" y="635.50" width="5" height="13.63" fill="#ffcdd2"/>
<rect x="387" y="635.50" width="6" height="13.15" fill="#ffcdd2"/>
<rect x="394" y="635.50" width="5" height="11.42" fill="#ffcdd2"/>
<rect x="400" y="635.50" width="6" height="6.81" fill="#ffcdd2"/>
<rect x="407" y="635.50" width="5" height="2.53" fill="#ffcdd2"/>
<rect x="413" y="631.79" width="5" height="3.71" fill="#26a69a"/>
<rect x="419" y="628.67" width="6" height="6.83" fill="#26a69a"/>
<rect x="426" y="627.98" width="5" height="7.52" fill="#26a69a"/>
<rect x="432" y="622.78" width="6" height="12.72" fill="#26a69a"/>
<rect x="439" y="618.26" width="5" height="17.24" fill="#26a69a"/>
<rect x="445" y="619.94" width="5" height="15.56" fill="#b2dfdb"/>
<rect x="451" y="623.90" width="6" height="11.60" fill="#b2dfdb"/>
<rect x="458" y="627.91" width="5" height="7.59" fill="#b2dfdb"/>
<rect x="464" y="630.46" width="6" height="5.04" fill="#b2dfdb"/>
<rect x="471" y="635.39" width="5" height="0.50" fill="#b2dfdb"/>
<rect x="477" y="635.50" width="5" height="7.22" fill="#ff5252"/>
<rect x="483" y="635.50" width="6" height="8.08" fill="#ff5252"/>
<rect x="490" y="635.50" width="5" height="10.52" fill="#ff5252"/>
<rect x="496" y="635.50" width="6" height="2.85" fill="#ffcdd2"/>
<rect x="503" y="634.80" width="5" height="0.70" fill="#26a69a"/>
<rect x="509" y="632.93" width="5" height="2.57" fill="#26a69a"/>
<rect x="515" y="635.50" width="6" height="3.11" fill="#ff5252"/>
<rect x="522" y="635.50" width="5" height="3.62" fill="#ff5252"/>
<rect x="528" y="635.50" width="6" height="5.64" fill="#ff5252"/>
<rect x="535" y="635.50" width="5" height="7.05" fill="#ff5252"/>
<rect x="541" y="635.50" width="5" height="10.40" fill="#ff5252"/>
<rect x="547" y="635.50" width="6" height="12.11" fill="#ff5252"/>
<rect x="554" y="635.50" width="5" height="12.77" fill="#ff5252"/>
<rect x="560" y="635.50" width="6" height="14.04" fill="#ff5252"/>
<rect x="567" y="635.50" width="5" height="14.30" fill="#ff5252"/>
<rect x="573" y="635.50" width="5" height="12.16" fill="#ffcdd2"/>
<rect x="579" y="635.50" width="6" height="12.82" fill="#ff5252"/>
<rect x="586" y="635.50" width="5" height="12.68" fill="#ffcdd2"/>
<rect x="592" y="635.50" width="6" height="12.80" fill="#ff5252"/>
<rect x="599" y="635.50" width="5" height="11.82" fill="#ffcdd2"/>
<rect x="605" y="635.50" width="5" height="10.87" fill="#ffcdd2"/>
<rect x="611" y="635.50" width="6" height="9.77" fill="#ffcdd2"/>
<rect x="618" y="635.50" width="5" height="8.12" fill="#ffcdd2"/>
<rect x="624" y="635.50" width="6" height="5.13" fill="#ffcdd2"/>
<rect x="631" y="634.93" width="5" height="0.57" fill="#26a69a"/>
<rect x="637" y="632.15" width="5" height="3.35" fill="#26a69a"/>
<rect x="643" y="631.71" width="6" height="3.79" fill="#26a69a"/>
<rect x="650" y="632.96" width="5" height="2.54" fill="#b2dfdb"/>
<rect x="656" y="634.38" width="6" height="1.12" fill="#b2dfdb"/>
<rect x="663" y="634.09" width="5" height="1.41" fill="#26a69a"/>
<rect x="669" y="634.20" width="5" height="1.30" fill="#b2dfdb"/>
<rect x="675" y="635.50" width="6" height="0.80" fill="#ff5252"/>
<rect x="682" y="635.50" width="5" height="1.92" fill="#ff5252"/>
<rect x="688" y="635.50" width="6" height="3.36" fill="#ff5252"/>
<rect x="695" y="635.50" width="5" height="7.92" fill="#ff5252"/>
<rect x="701" y="635.50" width="5" height="10.95" fill="#ff5252"/>
<rect x="707" y="635.50" width="6" height="12.53" fill="#ff5252"/>
<rect x="714" y="635.50" width="5" height="17.11" fill="#ff5252"/>
<rect x="720" y="635.50" width="6" height="16.74" fill="#ffcdd2"/>
<rect x="727" y="635.50" width="5" height="15.86" fill="#ffcdd2"/>
<rect x="733" y="635.50" width="5" height="12.53" fill="#ffcdd2"/>
<rect x="739" y="635.50" width="6" height="8.66" fill="#ffcdd2"/>
<rect x="746" y="635.50" width="5" height="6.75" fill="#ffcdd2"/>
<rect x="752" y="635.50" width="6" height="2.00" fill="#ffcdd2"/>
<rect x="759" y="632.28" width="5" height="3.22" fill="#26a69a"/>
<rect x="765" y="628.62" width="5" height="6.88" fill="#26a69a"/>
<rect x="771" y="627.02" width="6" height="8.48" fill="#26a69a"/>
<rect x="778" y="625.98" width="5" height="9.52" fill="#26a69a"/>
<rect x="784" y="623.23" width="6" height="12.27" fill="#26a69a"/>
<rect x="791" y="625.74" width="5" height="9.76" fill="#b2dfdb"/>
<rect x="797" y="626.65" width="6" height="8.85" fill="#b2dfdb"/>
<rect x="804" y="630.14" width="5" height="5.36" fill="#b2dfdb"/>
<rect x="810" y="635.50" width="5" height="5.13" fill="#ff5252"/>
<rect x="816" y="635.50" width="6" height="12.65" fill="#ff5252"/>
<rect x="823" y="635.50" width="5" height="10.55" fill="#ffcdd2"/>
<rect x="829" y="635.50" width="6" height="7.36" fill="#ffcdd2"/>
<rect x="836" y="635.50" width="5" height="6.77" fill="#ffcdd2"/>
<rect x="842" y="635.50" width="5" height="8.04" fill="#ff5252"/>
<rect x="848" y="635.50" width="6" height="9.75" fill="#ff5252"/>
<rect x="855" y="635.50" width="5" height="11.15" fill="#ff5252"/>
<rect x="861" y="635.50" width="6" height="10.34" fill="#ffcdd2"/>
<rect x="868" y="635.50" width="5" height="7.82" fill="#ffcdd2"/>
<rect x="874" y="635.50" width="5" height="5.73" fill="#ffcdd2"/>
<rect x="880" y="635.50" width="6" height="5.50" fill="#ffcdd2"/>
<rect x="887" y="635.50" width="5" height="5.92" fill="#ff5252"/>
<rect x="893" y="635.50" width="6" height="4.91" fill="#ffcdd2"/>
<rect x="900" y="635.50" width="5" height="2.62" fill="#ffcdd2"/>
<rect x="906" y="635.50" width="5" height="0.50" fill="#ffcdd2"/>
<rect x="912" y="631.31" width="6" height="4.19" fill="#26a69a"/>
<rect x="919" y="629.13" width="5" height="6.37" fill="#26a69a"/>
<rect x="925" y="629.91" width="6" height="5.59" fill="#b2dfdb"/>
<rect x="932" y="631.68" width="5" height="3.82" fill="#b2dfdb"/>
<rect x="938" y="634.25" width="5" height="1.25" fill="#b2dfdb"/>
<rect x="944" y="635.12" width="6" height="0.50" fill="#b2dfdb"/>
<rect x="951" y="635.17" width="5" height="0.50" fill="#b2dfdb"/>
<rect x="957" y="634.54" width="6" height="0.96" fill="#26a69a"/>
<rect x="964" y="635.50" width="5" height="2.98" fill="#ff5252"/>
<rect x="970" y="635.50" width="5" height="9.90" fill="#ff5252"/>
<rect x="976" y="635.50" width="6" height="11.44" fill="#ff5252"/>
<rect x="983" y="635.50" width="5" height="13.20" fill="#ff5252"/>
<rect x="989" y="635.50" width="6" height="11.60" fill="#ffcdd2"/>
<rect x="996" y="635.50" width="5" height="10.26" fill="#ffcdd2"/>
<rect x="1002" y="635.50" width="5" height="5.76" fill="#ffcdd2"/>
<rect x="1008" y="635.50" width="6" height="2.65" fill="#ffcdd2"/>
<rect x="1015" y="635.50" width="5" height="2.48" fill="#ffcdd2"/>
<rect x="1021" y="635.50" width="6" height="1.96" fill="#ffcdd2"/>
<rect x="1028" y="635.50" width="5" height="3.87" fill="#ff5252"/>
<rect x="1034" y="635.50" width="5" height="6.33" fill="#ff5252"/>
<rect x="1040" y="635.50" width="6" height="6.31" fill="#ffcdd2"/>
<rect x="1047" y="635.50" width="5" height="6.73" fill="#ff5252"/>
<rect x="1053" y="635.50" width="6" height="7.19" fill="#ff5252"/>
<rect x="1060" y="635.50" width="5" height="5.31" fill="#ffcdd2"/>
<rect x="1066" y="635.50" width="5" height="4.91" fill="#ffcdd2"/>
<rect x="1072" y="635.50" width="6" height="6.85" fill="#ff5252"/>
<rect x="1079" y="635.50" width="5" height="8.33" fill="#ff5252"/>
<rect x="1085" y="635.50" width="6" height="8.20" fill="#ffcdd2"/>
<rect x="1092" y="635.50" width="5" height="6.70" fill="#ffcdd2"/>
<rect x="1098" y="635.50" width="5" height="4.70" fill="#ffcdd2"/>
<polyline points="12.50,620.99 18.50,622.52 25.50,620.59 31.50,616.72 38.50,614.77 44.50,616.01 50.50,618.25 57.50,621.26 63.50,623.22 70.50,625.02 76.50,627.29 82.50,628.73 89.50,630.07 95.50,633.38 102.50,638.08 108.50,643.14 114.50,643.28 121.50,642.73 127.50,642.92 134.50,642.99 140.50,642.66 146.50,642.03 153.50,640.28 159.50,639.26 166.50,639.98 172.50,637.32 178.50,634.75 185.50,634.39 191.50,633.83 198.50,632.55 204.50,632.11 210.50,630.34 217.50,626.18 223.50,619.61 230.50,614.46 236.50,611.11 242.50,608.05 249.50,605.23 255.50,601.05 262.50,593.73 268.50,586.56 274.50,580.15 281.50,574.97 287.50,568.52 294.50,564.02 300.50,561.73 306.50,563.02 313.50,563.25 319.50,563.98 326.50,565.06 332.50,564.28 338.50,565.94 345.50,568.09 351.50,570.28 358.50,574.92 364.50,583.07 371.50,591.92 377.50,597.29 383.50,597.73 390.50,600.54 396.50,601.66 403.50,598.76 409.50,595.10 415.50,587.93 422.50,583.11 428.50,580.55 435.50,572.17 441.50,563.34 447.50,561.12 454.50,562.18 460.50,564.29 467.50,565.58 473.50,570.49 479.50,579.63 486.50,582.50 492.50,587.57 499.50,580.61 505.50,576.89 511.50,574.37 518.50,580.84 524.50,582.25 531.50,585.69 537.50,588.85 543.50,594.80 550.50,599.54 556.50,603.39 563.50,608.17 569.50,612.01 575.50,612.90 582.50,616.78 588.50,619.80 595.50,623.13 601.50,625.09 607.50,626.86 614.50,628.21 620.50,628.58 627.50,626.88 633.50,621.04 639.50,617.42 646.50,616.03 652.50,616.65 659.50,617.79 665.50,617.14 671.50,616.93 678.50,619.23 684.50,620.84 691.50,623.11 697.50,629.65 703.50,635.42 710.50,640.13 716.50,648.99 723.50,652.81 729.50,655.89 735.50,655.69 742.50,653.99 748.50,653.76 755.50,649.52 761.50,643.49 767.50,638.11 774.50,634.39 780.50,630.97 787.50,625.15 793.50,625.23 800.50,623.92 806.50,626.07 812.50,637.84 819.50,648.53 825.50,649.06 832.50,647.71 838.50,648.81 844.50,652.09 851.50,656.24 857.50,660.43 864.50,662.21 870.50,661.63 876.50,660.98 883.50,662.13 889.50,664.03 896.50,664.24 902.50,662.61 908.50,660.53 915.50,654.86 921.50,651.09 928.50,650.47 934.50,651.29 940.50,653.54 947.50,654.32 953.50,654.29 960.50,653.42 966.50,658.11 972.50,667.50 979.50,671.90 985.50,676.96 992.50,678.25 998.50,679.48 1004.50,676.42 1011.50,673.97 1017.50,674.42 1024.50,674.39 1030.50,677.28 1036.50,681.32 1043.50,682.87 1049.50,684.98 1056.50,687.23 1062.50,686.68 1068.50,687.51 1075.50,691.16 1081.50,694.73 1088.50,696.64 1094.50,696.81 1100.50,695.99" fill="none" stroke="#2962ff" stroke-width="1.4" stroke-linejoin="round"/>
<polyline points="12.50,611.82 18.50,613.96 25.50,615.29 31.50,615.57 38.50,615.41 44.50,615.53 50.50,616.08 57.50,617.11 63.50,618.33 70.50,619.67 76.50,621.20 82.50,622.70 89.50,624.18 95.50,626.02 102.50,628.43 108.50,631.37 114.50,633.75 121.50,635.55 127.50,637.02 134.50,638.22 140.50,639.10 146.50,639.69 153.50,639.81 159.50,639.70 166.50,639.75 172.50,639.27 178.50,638.36 185.50,637.57 191.50,636.82 198.50,635.97 204.50,635.20 210.50,634.23 217.50,632.62 223.50,630.01 230.50,626.90 236.50,623.74 242.50,620.60 249.50,617.53 255.50,614.23 262.50,610.13 268.50,605.42 274.50,600.36 281.50,595.28 287.50,589.93 294.50,584.75 300.50,580.15 306.50,576.72 313.50,574.03 319.50,572.02 326.50,570.63 332.50,569.36 338.50,568.67 345.50,568.56 351.50,568.90 358.50,570.10 364.50,572.70 371.50,576.54 377.50,580.69 383.50,584.10 390.50,587.39 396.50,590.24 403.50,591.95 409.50,592.58 415.50,591.65 422.50,589.94 428.50,588.06 435.50,584.88 441.50,580.57 447.50,576.68 454.50,573.78 460.50,571.89 467.50,570.62 473.50,570.60 479.50,572.40 486.50,574.42 492.50,577.05 499.50,577.76 505.50,577.59 511.50,576.95 518.50,577.72 524.50,578.63 531.50,580.04 537.50,581.80 543.50,584.40 550.50,587.43 556.50,590.62 563.50,594.13 569.50,597.71 575.50,600.75 582.50,603.95 588.50,607.12 595.50,610.32 601.50,613.28 607.50,615.99 614.50,618.44 620.50,620.47 627.50,621.75 633.50,621.61 639.50,620.77 646.50,619.82 652.50,619.19 659.50,618.91 665.50,618.56 671.50,618.23 678.50,618.43 684.50,618.91 691.50,619.75 697.50,621.73 703.50,624.47 710.50,627.60 716.50,631.88 723.50,636.07 729.50,640.03 735.50,643.16 742.50,645.33 748.50,647.01 755.50,647.51 761.50,646.71 767.50,644.99 774.50,642.87 780.50,640.49 787.50,637.42 793.50,634.98 800.50,632.77 806.50,631.43 812.50,632.71 819.50,635.87 825.50,638.51 832.50,640.35 838.50,642.04 844.50,644.05 851.50,646.49 857.50,649.28 864.50,651.86 870.50,653.82 876.50,655.25 883.50,656.62 889.50,658.11 896.50,659.33 902.50,659.99 908.50,660.10 915.50,659.05 921.50,657.46 928.50,656.06 934.50,655.11 940.50,654.79 947.50,654.70 953.50,654.62 960.50,654.38 966.50,655.12 972.50,657.60 979.50,660.46 985.50,663.76 992.50,666.66 998.50,669.22 1004.50,670.66 1011.50,671.32 1017.50,671.94 1024.50,672.43 1030.50,673.40 1036.50,674.99 1043.50,676.56 1049.50,678.24 1056.50,680.04 1062.50,681.37 1068.50,682.60 1075.50,684.31 1081.50,686.39 1088.50,688.44 1094.50,690.12 1100.50,691.29" fill="none" stroke="#ff6d00" stroke-width="1.4" stroke-linejoin="round"/>
</g>
<text x="1267.20" y="116.90" font-family='"Liberation Sans", sans-serif' font-size="17.2" font-weight="normal" fill="#131722" text-anchor="start" textLength="69.80" lengthAdjust="spacingAndGlyphs" stroke="#131722" stroke-width="0.55">4,800.00</text>
<text x="1267.20" y="166.90" font-family='"Liberation Sans", sans-serif' font-size="17.2" font-weight="normal" fill="#131722" text-anchor="start" textLength="69.80" lengthAdjust="spacingAndGlyphs" stroke="#131722" stroke-width="0.55">4,400.00</text>
<text x="1267.20" y="216.90" font-family='"Liberation Sans", sans-serif' font-size="17.2" font-weight="normal" fill="#131722" text-anchor="start" textLength="69.80" lengthAdjust="spacingAndGlyphs" stroke="#131722" stroke-width="0.55">4,000.00</text>
<text x="1266.20" y="266.90" font-family='"Liberation Sans", sans-serif' font-size="17.2" font-weight="normal" fill="#131722" text-anchor="start" textLength="70.83" lengthAdjust="spacingAndGlyphs" stroke="#131722" stroke-width="0.55">3,600.00</text>
<text x="1266.20" y="316.90" font-family='"Liberation Sans", sans-serif' font-size="17.2" font-weight="normal" fill="#131722" text-anchor="start" textLength="70.83" lengthAdjust="spacingAndGlyphs" stroke="#131722" stroke-width="0.55">3,200.00</text>
<text x="1266.50" y="416.70" font-family='"Liberation Sans", sans-serif' font-size="17.2" font-weight="normal" fill="#131722" text-anchor="start" textLength="70.01" lengthAdjust="spacingAndGlyphs" stroke="#131722" stroke-width="0.55">2,400.00</text>
<rect x="1259.5" y="47.5" width="85" height="37" rx="6" fill="#ffffff" stroke="#e9ebef" stroke-width="1"/>
<text x="1272.52" y="72.60" font-family='"Liberation Sans", sans-serif' font-size="17.2" font-weight="normal" fill="#131722" text-anchor="start" textLength="31.25" lengthAdjust="spacingAndGlyphs" stroke="#131722" stroke-width="0.55">USD</text>
<path d="M1254,346 H1340 a4,4 0 0 1 4,4 V369 a4,4 0 0 1 -4,4 H1254 Z" fill="#089981"/>
<text x="1265.99" y="365.00" font-family='"Liberation Sans", sans-serif' font-size="17.2" font-weight="normal" fill="#ffffff" text-anchor="start" textLength="71.63" lengthAdjust="spacingAndGlyphs" stroke="#ffffff" stroke-width="0.55">2,818.70</text>
<text x="1267.80" y="459.50" font-family='"Liberation Sans", sans-serif' font-size="17.2" font-weight="normal" fill="#131722" text-anchor="start" textLength="43.62" lengthAdjust="spacingAndGlyphs" stroke="#131722" stroke-width="0.55">80.00</text>
<text x="1267.80" y="519.90" font-family='"Liberation Sans", sans-serif' font-size="17.2" font-weight="normal" fill="#131722" text-anchor="start" textLength="43.62" lengthAdjust="spacingAndGlyphs" stroke="#131722" stroke-width="0.55">40.00</text>
<path d="M1254,515 H1315 a4,4 0 0 1 4,4 V538 a4,4 0 0 1 -4,4 H1254 Z" fill="#7e57c2"/>
<text x="1266.41" y="534.90" font-family='"Liberation Sans", sans-serif' font-size="17.2" font-weight="normal" fill="#ffffff" text-anchor="start" textLength="44.44" lengthAdjust="spacingAndGlyphs" stroke="#ffffff" stroke-width="0.55">30.73</text>
<text x="1266.61" y="594.10" font-family='"Liberation Sans", sans-serif' font-size="17.2" font-weight="normal" fill="#131722" text-anchor="start" textLength="53.84" lengthAdjust="spacingAndGlyphs" stroke="#131722" stroke-width="0.55">200.00</text>
<g clip-path="url(#cax)">
<path d="M1254,704.7 H1338 V716 H1254 Z" fill="#2962ff"/>
<text x="1266.99" y="722.60" font-family='"Liberation Sans", sans-serif' font-size="17.2" font-weight="normal" fill="#ffffff" text-anchor="start" textLength="63.04" lengthAdjust="spacingAndGlyphs" stroke="#ffffff" stroke-width="0.55">−258.08</text>
<text x="1266.99" y="687.70" font-family='"Liberation Sans", sans-serif' font-size="17.2" font-weight="normal" fill="#131722" text-anchor="start" textLength="63.04" lengthAdjust="spacingAndGlyphs" stroke="#131722" stroke-width="0.55">−200.00</text>
<path d="M1254,627 H1323.5 a4,4 0 0 1 4,4 V649.6 a4,4 0 0 1 -4,4 H1254 Z" fill="#ffcdd2"/>
<text x="1267.01" y="647.30" font-family='"Liberation Sans", sans-serif' font-size="17.2" font-weight="normal" fill="#131722" text-anchor="start" textLength="52.84" lengthAdjust="spacingAndGlyphs" stroke="#131722" stroke-width="0.55">−20.26</text>
<path d="M1254,678 H1333.7 a4,4 0 0 1 4,4 V700.8 a4,4 0 0 1 -4,4 H1254 Z" fill="#ff6d00"/>
<text x="1266.99" y="697.70" font-family='"Liberation Sans", sans-serif' font-size="17.2" font-weight="normal" fill="#ffffff" text-anchor="start" textLength="63.04" lengthAdjust="spacingAndGlyphs" stroke="#ffffff" stroke-width="0.55">−237.82</text>
</g>
<text x="14.50" y="28.50" font-family='"Liberation Sans", sans-serif' font-size="17.2" font-weight="normal" fill="#131722" text-anchor="start" textLength="99.82" lengthAdjust="spacingAndGlyphs" stroke="#131722" stroke-width="0.55">CharlesThuo</text>
<text x="120.30" y="28.50" font-family='"Liberation Sans", sans-serif' font-size="17.2" font-weight="normal" fill="#131722" text-anchor="start" textLength="61.62" lengthAdjust="spacingAndGlyphs" stroke="#131722" stroke-width="0.55">created</text>
<text x="187.90" y="28.50" font-family='"Liberation Sans", sans-serif' font-size="17.2" font-weight="normal" fill="#131722" text-anchor="start" textLength="35.03" lengthAdjust="spacingAndGlyphs" stroke="#131722" stroke-width="0.55">with</text>
<text x="229.00" y="28.50" font-family='"Liberation Sans", sans-serif' font-size="17.2" font-weight="normal" fill="#131722" text-anchor="start" textLength="141.02" lengthAdjust="spacingAndGlyphs" stroke="#131722" stroke-width="0.55">TradingView.com,</text>
<text x="375.72" y="28.50" font-family='"Liberation Sans", sans-serif' font-size="17.2" font-weight="normal" fill="#131722" text-anchor="start" textLength="29.02" lengthAdjust="spacingAndGlyphs" stroke="#131722" stroke-width="0.55">Nov</text>
<text x="410.82" y="28.50" font-family='"Liberation Sans", sans-serif' font-size="17.2" font-weight="normal" fill="#131722" text-anchor="start" textLength="25.65" lengthAdjust="spacingAndGlyphs" stroke="#131722" stroke-width="0.55">24,</text>
<text x="441.91" y="28.50" font-family='"Liberation Sans", sans-serif' font-size="17.2" font-weight="normal" fill="#131722" text-anchor="start" textLength="36.83" lengthAdjust="spacingAndGlyphs" stroke="#131722" stroke-width="0.55">2025</text>
<text x="485.80" y="28.50" font-family='"Liberation Sans", sans-serif' font-size="17.2" font-weight="normal" fill="#131722" text-anchor="start" textLength="43.44" lengthAdjust="spacingAndGlyphs" stroke="#131722" stroke-width="0.55">10:12</text>
<text x="535.50" y="28.50" font-family='"Liberation Sans", sans-serif' font-size="17.2" font-weight="normal" fill="#131722" text-anchor="start" textLength="48.24" lengthAdjust="spacingAndGlyphs" stroke="#131722" stroke-width="0.55">UTC-5</text>
<text x="26.61" y="69.70" font-family='"Liberation Sans", sans-serif' font-size="17.2" font-weight="normal" fill="#131722" text-anchor="start" textLength="77.63" lengthAdjust="spacingAndGlyphs" stroke="#131722" stroke-width="0.55">Ethereum</text>
<text x="111.90" y="69.70" font-family='"Liberation Sans", sans-serif' font-size="17.2" font-weight="normal" fill="#131722" text-anchor="start" textLength="5.24" lengthAdjust="spacingAndGlyphs" stroke="#131722" stroke-width="0.55">/</text>
<text x="124.90" y="69.70" font-family='"Liberation Sans", sans-serif' font-size="17.2" font-weight="normal" fill="#131722" text-anchor="start" textLength="33.14" lengthAdjust="spacingAndGlyphs" stroke="#131722" stroke-width="0.55">U.S.</text>
<text x="164.30" y="69.70" font-family='"Liberation Sans", sans-serif' font-size="17.2" font-weight="normal" fill="#131722" text-anchor="start" textLength="47.43" lengthAdjust="spacingAndGlyphs" stroke="#131722" stroke-width="0.55">Dollar</text>
<text x="230.08" y="69.70" font-family='"Liberation Sans", sans-serif' font-size="17.2" font-weight="normal" fill="#131722" text-anchor="start" textLength="19.71" lengthAdjust="spacingAndGlyphs" stroke="#131722" stroke-width="0.55">1D</text>
<text x="268.00" y="69.70" font-family='"Liberation Sans", sans-serif' font-size="17.2" font-weight="normal" fill="#131722" text-anchor="start" textLength="61.80" lengthAdjust="spacingAndGlyphs" stroke="#131722" stroke-width="0.55">CRYPTO</text>
<text x="340.70" y="69.70" font-family='"Liberation Sans", sans-serif' font-size="17.2" font-weight="normal" fill="#131722" text-anchor="start" textLength="12.05" lengthAdjust="spacingAndGlyphs" stroke="#131722" stroke-width="0.55">O</text>
<text x="352.01" y="69.70" font-family='"Liberation Sans", sans-serif' font-size="17.2" font-weight="normal" fill="#089981" text-anchor="start" textLength="69.63" lengthAdjust="spacingAndGlyphs" stroke="#089981" stroke-width="0.55">2,801.12</text>
<text x="432.83" y="69.70" font-family='"Liberation Sans", sans-serif' font-size="17.2" font-weight="normal" fill="#131722" text-anchor="start" textLength="13.24" lengthAdjust="spacingAndGlyphs" stroke="#131722" stroke-width="0.55">H</text>
<text x="445.29" y="69.70" font-family='"Liberation Sans", sans-serif' font-size="17.2" font-weight="normal" fill="#089981" text-anchor="start" textLength="69.63" lengthAdjust="spacingAndGlyphs" stroke="#089981" stroke-width="0.55">2,884.64</text>
<text x="525.30" y="69.70" font-family='"Liberation Sans", sans-serif' font-size="17.2" font-weight="normal" fill="#131722" text-anchor="start" textLength="9.14" lengthAdjust="spacingAndGlyphs" stroke="#131722" stroke-width="0.55">L</text>
<text x="534.09" y="69.70" font-family='"Liberation Sans", sans-serif' font-size="17.2" font-weight="normal" fill="#089981" text-anchor="start" textLength="70.04" lengthAdjust="spacingAndGlyphs" stroke="#089981" stroke-width="0.55">2,763.07</text>
<text x="614.61" y="69.70" font-family='"Liberation Sans", sans-serif' font-size="17.2" font-weight="normal" fill="#131722" text-anchor="start" textLength="12.83" lengthAdjust="spacingAndGlyphs" stroke="#131722" stroke-width="0.55">C</text>
<text x="626.01" y="69.70" font-family='"Liberation Sans", sans-serif' font-size="17.2" font-weight="normal" fill="#089981" text-anchor="start" textLength="69.22" lengthAdjust="spacingAndGlyphs" stroke="#089981" stroke-width="0.55">2,818.70</text>
<text x="26.89" y="459.80" font-family='"Liberation Sans", sans-serif' font-size="17.2" font-weight="normal" fill="#131722" text-anchor="start" textLength="24.00" lengthAdjust="spacingAndGlyphs" stroke="#131722" stroke-width="0.55">RSI</text>
<text x="57.00" y="459.80" font-family='"Liberation Sans", sans-serif' font-size="17.2" font-weight="normal" fill="#131722" text-anchor="start" textLength="31.15" lengthAdjust="spacingAndGlyphs" stroke="#131722" stroke-width="0.55">(14,</text>
<text x="94.70" y="459.80" font-family='"Liberation Sans", sans-serif' font-size="17.2" font-weight="normal" fill="#131722" text-anchor="start" textLength="46.42" lengthAdjust="spacingAndGlyphs" stroke="#131722" stroke-width="0.55">close)</text>
<text x="152.31" y="459.80" font-family='"Liberation Sans", sans-serif' font-size="17.2" font-weight="normal" fill="#7e57c2" text-anchor="start" textLength="43.65" lengthAdjust="spacingAndGlyphs" stroke="#7e57c2" stroke-width="0.55">30.73</text>
<text x="26.40" y="572.50" font-family='"Liberation Sans", sans-serif' font-size="17.2" font-weight="normal" fill="#131722" text-anchor="start" textLength="45.65" lengthAdjust="spacingAndGlyphs" stroke="#131722" stroke-width="0.55">MACD</text>
<text x="76.90" y="572.50" font-family='"Liberation Sans", sans-serif' font-size="17.2" font-weight="normal" fill="#131722" text-anchor="start" textLength="31.15" lengthAdjust="spacingAndGlyphs" stroke="#131722" stroke-width="0.55">(12,</text>
<text x="114.50" y="572.50" font-family='"Liberation Sans", sans-serif' font-size="17.2" font-weight="normal" fill="#131722" text-anchor="start" textLength="25.19" lengthAdjust="spacingAndGlyphs" stroke="#131722" stroke-width="0.55">26,</text>
<text x="146.70" y="572.50" font-family='"Liberation Sans", sans-serif' font-size="17.2" font-weight="normal" fill="#131722" text-anchor="start" textLength="46.42" lengthAdjust="spacingAndGlyphs" stroke="#131722" stroke-width="0.55">close)</text>
<text x="203.81" y="572.50" font-family='"Liberation Sans", sans-serif' font-size="17.2" font-weight="normal" fill="#ffcdd2" text-anchor="start" textLength="53.84" lengthAdjust="spacingAndGlyphs" stroke="#ffcdd2" stroke-width="0.55">−20.26</text>
<text x="269.00" y="572.50" font-family='"Liberation Sans", sans-serif' font-size="17.2" font-weight="normal" fill="#2962ff" text-anchor="start" textLength="63.02" lengthAdjust="spacingAndGlyphs" stroke="#2962ff" stroke-width="0.55">−258.08</text>
<text x="342.19" y="572.50" font-family='"Liberation Sans", sans-serif' font-size="17.2" font-weight="normal" fill="#ff6d00" text-anchor="start" textLength="64.04" lengthAdjust="spacingAndGlyphs" stroke="#ff6d00" stroke-width="0.55">−237.82</text>
<circle cx="220.9" cy="64.4" r="1.25" fill="#131722"/>
<circle cx="258.4" cy="64.4" r="1.25" fill="#131722"/>
<text x="152.80" y="738.80" font-family='"Liberation Sans", sans-serif' font-size="17.2" font-weight="normal" fill="#131722" text-anchor="start" textLength="25.63" lengthAdjust="spacingAndGlyphs" stroke="#131722" stroke-width="0.8">Jul</text>
<text x="348.30" y="738.80" font-family='"Liberation Sans", sans-serif' font-size="17.2" font-weight="normal" fill="#131722" text-anchor="start" textLength="31.81" lengthAdjust="spacingAndGlyphs" stroke="#131722" stroke-width="0.8">Aug</text>
<text x="547.00" y="738.80" font-family='"Liberation Sans", sans-serif' font-size="17.2" font-weight="normal" fill="#131722" text-anchor="start" textLength="29.70" lengthAdjust="spacingAndGlyphs" stroke="#131722" stroke-width="0.8">Sep</text>
<text x="739.50" y="738.80" font-family='"Liberation Sans", sans-serif' font-size="17.2" font-weight="normal" fill="#131722" text-anchor="start" textLength="29.45" lengthAdjust="spacingAndGlyphs" stroke="#131722" stroke-width="0.8">Oct</text>
<text x="936.80" y="738.80" font-family='"Liberation Sans", sans-serif' font-size="17.2" font-weight="normal" fill="#131722" text-anchor="start" textLength="31.62" lengthAdjust="spacingAndGlyphs" stroke="#131722" stroke-width="0.8">Nov</text>
<text x="1129.11" y="738.80" font-family='"Liberation Sans", sans-serif' font-size="17.2" font-weight="normal" fill="#131722" text-anchor="start" textLength="31.46" lengthAdjust="spacingAndGlyphs" stroke="#131722" stroke-width="0.8">Dec</text>
<path d="M18,786 H35.9 V808.2 H27.2 V794.9 H18 Z" fill="#131722"/>
<circle cx="43.5" cy="790.4" r="4.45" fill="#131722"/>
<path d="M52.4,786 H62.8 L53.9,808.2 H43.8 Z" fill="#131722"/>
<text x="73.50" y="808.00" font-family='"Liberation Sans", sans-serif' font-size="32" font-weight="bold" fill="#131722" text-anchor="start" textLength="181.20" lengthAdjust="spacingAndGlyphs">TradingView</text>
</svg>
</body></html>
